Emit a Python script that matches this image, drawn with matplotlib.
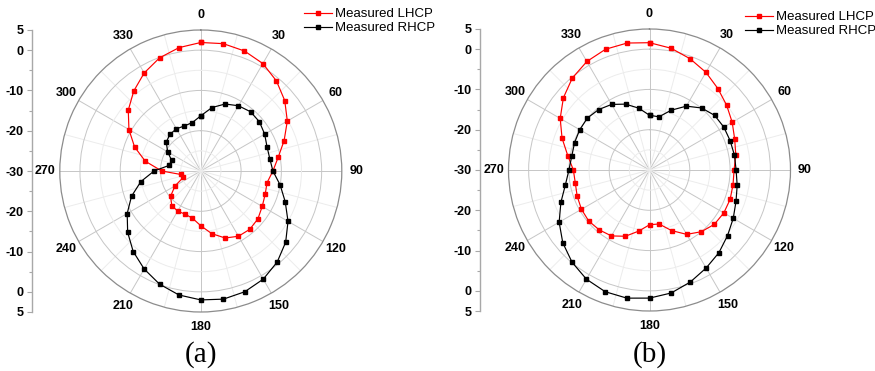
import numpy as np
import matplotlib
matplotlib.use('Agg')
import matplotlib.pyplot as plt
from matplotlib.ticker import FixedLocator

plt.rcParams['font.family'] = ['Liberation Sans', 'DejaVu Sans']

# ---------------- data ----------------
angles_deg = list(range(0, 360, 10))

lhcp_a = [1.9, 2.1, 1.7, 0.8, -0.8, -2.8, -5.2, -8.0, -10.5, -12.1,
          -13.3, -13.0, -12.4, -11.5, -11.1, -11.3, -12.3, -14.2, -16.4,
          -18.1, -18.6, -18.5, -18.8, -20.2, -22.6, -25.4, -25.0, -20.3,
          -16.0, -12.5, -9.4, -6.5, -4.1, -1.9, -0.1, 1.1]
rhcp_a = [-16.3, -14.0, -12.3, -11.3, -10.8, -11.0, -11.7, -12.5, -12.6, -12.1,
          -10.0, -7.7, -5.0, -2.5, -0.5, 1.0, 1.9, 2.3, 2.0,
          1.25, -0.1, -1.9, -3.9, -6.3, -8.9, -11.7, -14.9, -18.4,
          -22.0, -22.3, -20.5, -18.8, -18.1, -17.9, -18.1, -17.8]

lhcp_b = [1.6, 0.7, -0.6, -2.0, -3.6, -5.0, -6.3, -7.5, -8.25, -9.0,
          -8.95, -8.7, -8.7, -9.0, -10.0, -11.55, -14.0, -16.4, -16.4,
          -14.6, -12.5, -11.1, -10.6, -10.3, -10.5, -10.9, -11.3, -11.1,
          -9.4, -6.9, -4.4, -2.1, -0.2, 1.1, 1.9, 2.0]
rhcp_b = [-16.4, -16.6, -14.2, -11.7, -9.9, -8.9, -8.7, -8.7, -8.6, -8.5,
          -7.9, -7.15, -6.0, -4.7, -3.2, -1.9, -0.4, 1.0, 1.8,
          2.3, 2.15, 1.3, -0.1, -1.9, -4.1, -6.6, -8.8, -10.0,
          -10.4, -10.2, -10.0, -9.9, -10.4, -11.2, -12.6, -14.4]

angle_labels = [str(a) for a in range(0, 360, 30)]
radial_tick_pos = [35, 30, 20, 10, 0, -10, -20, -30, -35]
radial_tick_labels = ['5', '0', '-10', '-20', '-30', '-20', '-10', '0', '5']
series_names = ['Measured LHCP', 'Measured RHCP']
captions = ['(a)', '(b)']

# ---------------- layout ----------------
W, H = 875, 371
fig = plt.figure(figsize=(W / 100, H / 100), dpi=100)

R = 141.0
panels = [
    dict(cx=200.8, cy=171.0, axis_x=31.7, leg=(304, 8), lh=lhcp_a, rh=rhcp_a, cap=captions[0]),
    dict(cx=649.5, cy=170.0, axis_x=480.0, leg=(745, 11), lh=lhcp_b, rh=rhcp_b, cap=captions[1]),
]

theta = np.deg2rad(angles_deg + [360])

for p in panels:
    cx, cy = p['cx'], p['cy']
    rect = [(cx - R) / W, (H - cy - R) / H, 2 * R / W, 2 * R / H]
    ax = fig.add_axes(rect, projection='polar')
    ax.set_theta_zero_location('N')
    ax.set_theta_direction(-1)
    ax.set_ylim(-30, 5)

    ax.set_xticks(np.deg2rad(np.arange(0, 360, 30)))
    ax.xaxis.set_minor_locator(FixedLocator(np.deg2rad(np.arange(15, 360, 30))))
    ax.set_yticks([-20, -10, 0])
    ax.yaxis.set_minor_locator(FixedLocator([-25, -15, -5]))
    ax.set_xticklabels([])
    ax.set_yticklabels([])
    ax.tick_params(which='both', length=0)
    ax.grid(which='major', color='#c6c6c6', lw=0.7)
    ax.grid(which='minor', color='#ececec', lw=0.7)
    ax.spines['polar'].set_color('#8c8c8c')
    ax.spines['polar'].set_linewidth(0.9)

    lh = p['lh'] + [p['lh'][0]]
    rh = p['rh'] + [p['rh'][0]]
    l1, = ax.plot(theta, lh, color='#ff0000', marker='s', ms=3.3, lw=0.85,
                  label=series_names[0], clip_on=False)
    l2, = ax.plot(theta, rh, color='black', marker='s', ms=3.3, lw=0.85,
                  label=series_names[1], clip_on=False)

    for a, lab in zip(range(0, 360, 30), angle_labels):
        ax.text(np.deg2rad(a), 8.6, lab, ha='center', va='center', fontsize=9,
                fontweight='bold', clip_on=False)

    lx, ly = p['leg']
    ax.legend(handles=[l1, l2], loc='upper left', bbox_to_anchor=(lx / W, 1 - ly / H),
              bbox_transform=fig.transFigure, frameon=False, fontsize=9.5,
              handlelength=2.1, handletextpad=0.25, labelspacing=0.15,
              borderpad=0, borderaxespad=0, numpoints=1)

    # left radial scale
    axl = fig.add_axes([p['axis_x'] / W, (H - cy - R) / H, 0.0005, 2 * R / H])
    axl.set_ylim(-35, 35)
    axl.set_xticks([])
    for s in ['top', 'right', 'bottom']:
        axl.spines[s].set_visible(False)
    axl.spines['left'].set_color('#a8a8a8')
    axl.spines['left'].set_linewidth(1.0)
    axl.set_yticks(radial_tick_pos)
    axl.set_yticklabels(radial_tick_labels, fontsize=9, fontweight='bold')
    axl.yaxis.set_minor_locator(FixedLocator([25, 15, 5, -5, -15, -25]))
    axl.tick_params(axis='y', which='major', direction='out', length=3.6, width=0.8,
                    color='#a8a8a8', pad=2.5)
    axl.tick_params(axis='y', which='minor', direction='out', length=2.2, width=0.8,
                    color='#a8a8a8')
    axl.patch.set_visible(False)

    fig.text(cx / W, 1 - 355 / H, p['cap'], ha='center', va='center',
             fontsize=21, family='Liberation Serif')

fig.savefig('out.png', dpi=100)
